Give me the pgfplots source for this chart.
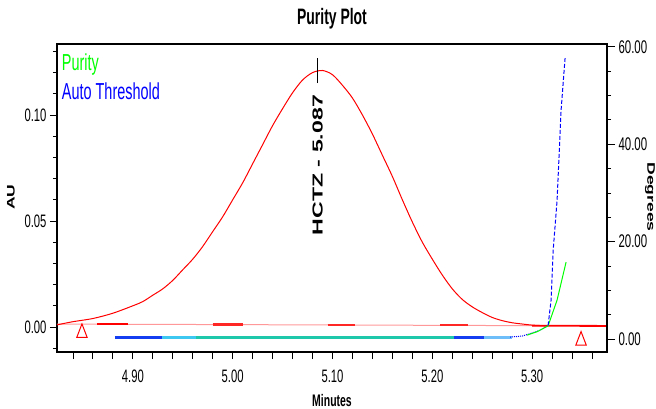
\documentclass[border=0pt]{standalone}
\usepackage{fontspec}
\setmainfont{Liberation Sans}
\usepackage{graphicx}
\usepackage{pgfplots}
\pgfplotsset{compat=1.18}
\newcommand{\st}[1]{\scalebox{1}[1.6]{#1}}
\newcommand{\sw}[1]{\scalebox{1.6}[1]{#1}}
\definecolor{dkblue}{RGB}{20,60,240}
\definecolor{cyanb}{RGB}{60,200,240}
\definecolor{tealb}{RGB}{30,200,170}
\definecolor{ltblue}{RGB}{110,190,250}
\begin{document}
\begin{tikzpicture}
\begin{axis}[
  scale only axis, width=550bp, height=308bp, at={(0,0)}, anchor=south west,
  xmin=4.824, xmax=5.375, ymin=-0.0118, ymax=0.1335,
  axis line style={line width=1.2bp},
  tick align=outside, tick style={black, line width=0.9bp},
  major tick length=7bp, minor tick length=4bp,
  xtick pos=bottom, ytick pos=left,
  xtick={4.84,4.86,4.88,4.90,4.92,4.94,4.96,4.98,5.00,5.02,5.04,5.06,5.08,5.10,5.12,5.14,5.16,5.18,5.20,5.22,5.24,5.26,5.28,5.30,5.32,5.34,5.36},
  xticklabels={,,,\st{4.90},,,,,\st{5.00},,,,,\st{5.10},,,,,\st{5.20},,,,,\st{5.30},,,},
  xticklabel style={yshift=-7bp},
  ytick={0,0.05,0.10}, yticklabels={\st{0.00},\st{0.05},\st{0.10}},
  minor ytick={-0.01,0.01,0.02,0.03,0.04,0.06,0.07,0.08,0.09,0.11,0.12,0.13},
  ticklabel style={font=\fontsize{11.3}{12}\selectfont},
  title={\st{Purity Plot}},
  title style={at={(axis description cs:0.5,1.062)}, anchor=center, font=\bfseries\fontsize{14}{15}\selectfont},
  xlabel={\st{Minutes}},
  xlabel style={at={(axis description cs:0.5,-0.156)}, anchor=center, font=\bfseries\fontsize{10.5}{12}\selectfont},
  ylabel={\sw{AU}},
  ylabel style={at={(axis description cs:-0.0836,0.503)}, anchor=center, rotate=0, font=\bfseries\fontsize{11}{12}\selectfont},
  clip=false,
]
% baseline
\addplot[red!40, line width=1bp] coordinates {(4.824,0.0014) (5.316,0.0006)};
\addplot[red, line width=2.4bp] coordinates {(4.864,0.0013) (4.895,0.0013)};
\addplot[red!85, line width=2.4bp] coordinates {(4.980,0.0011) (5.010,0.0011)};
\addplot[red!85, line width=2.4bp] coordinates {(5.095,0.0009) (5.123,0.0009)};
\addplot[red!85, line width=2.4bp] coordinates {(5.208,0.0008) (5.236,0.0008)};
\addplot[red, line width=1.8bp] coordinates {(5.300,0.0006) (5.375,0.0005)};
% chromatogram
\addplot[red, line width=1bp, smooth] coordinates {
(4.824,0.0010) (4.840,0.0025) (4.860,0.0040) (4.880,0.0065) (4.900,0.0100)
(4.910,0.0120) (4.920,0.0150) (4.930,0.0180) (4.940,0.0220) (4.950,0.0270)
(4.960,0.0320) (4.970,0.0380) (4.980,0.0450) (4.990,0.0520) (5.000,0.0600)
(5.010,0.0680) (5.020,0.0770) (5.030,0.0860) (5.040,0.0950) (5.050,0.1030)
(5.060,0.1105) (5.070,0.1165) (5.080,0.1200) (5.090,0.1210) (5.100,0.1190)
(5.110,0.1140) (5.120,0.1080) (5.130,0.1000) (5.140,0.0910) (5.150,0.0810)
(5.160,0.0710) (5.170,0.0600) (5.180,0.0495) (5.190,0.0400) (5.200,0.0320)
(5.210,0.0245) (5.220,0.0180) (5.230,0.0130) (5.240,0.0095) (5.250,0.0068)
(5.260,0.0045) (5.270,0.0030) (5.280,0.0020) (5.290,0.0014) (5.300,0.0009)
(5.316,0.0005)};
% peak marker
\addplot[black, line width=0.9bp] coordinates {(5.085,0.1151) (5.085,0.1269)};
\node[rotate=90, font=\bfseries\fontsize{14.5}{16}\selectfont] at (axis cs:5.085,0.0764) {\sw{HCTZ - 5.087}};
% integration markers
\addplot[only marks, mark=triangle, mark size=6bp, mark options={red, line width=1bp, yscale=1.5}] coordinates {(4.849,-0.0028) (5.349,-0.0064)};
\end{axis}
\begin{axis}[
  scale only axis, width=550bp, height=308bp, at={(0,0)}, anchor=south west,
  xmin=4.824, xmax=5.375, ymin=-2.67, ymax=60.6,
  hide x axis, axis y line*=right,
  axis line style={line width=1.2bp},
  tick align=outside, tick style={black, line width=0.9bp},
  major tick length=8bp, minor tick length=4bp,
  ytick={0,20,40,60}, yticklabels={\st{0.00},\st{20.00},\st{40.00},\st{60.00}},
  minor ytick={5,10,15,25,30,35,45,50,55},
  ticklabel style={font=\fontsize{11.5}{12}\selectfont},
  ylabel={\sw{Degrees}},
  ylabel style={at={(axis description cs:1.078,0.503)}, anchor=center, rotate=180, font=\bfseries\fontsize{11}{12}\selectfont},
  legend style={at={(axis description cs:0.005,0.975)}, anchor=north west, draw=none, fill=none,
    font=\fontsize{14.5}{16}\selectfont, row sep=7bp, inner sep=0pt},
  legend cell align=left,
  legend image code/.code={},
  clip=false,
]
\addplot[dkblue, line width=3bp, forget plot] coordinates {(4.882,0.35) (4.929,0.35)};
\addplot[cyanb, line width=3bp, forget plot] coordinates {(4.929,0.35) (4.963,0.35)};
\addplot[tealb, line width=3bp, forget plot] coordinates {(4.963,0.35) (5.222,0.35)};
\addplot[dkblue, line width=3bp, forget plot] coordinates {(5.222,0.35) (5.252,0.35)};
\addplot[ltblue, line width=3bp, forget plot] coordinates {(5.252,0.35) (5.280,0.35)};
\addplot[blue, line width=1bp, densely dotted, forget plot] coordinates {(5.278,0.4) (5.290,0.6) (5.298,1.1) (5.308,1.8) (5.316,2.8)};
\addplot[green, line width=1bp, forget plot] coordinates {(5.295,0.8) (5.305,1.5) (5.316,2.7)};
\addplot[green, line width=1bp] coordinates {(5.316,2.7) (5.325,8.0) (5.334,15.8)};
\addlegendentry{\textcolor{green}{\st{Purity}}}
\addplot[blue, line width=1bp, dash pattern=on 4bp off 2bp] coordinates {(5.316,2.8) (5.319,8) (5.321,18) (5.325,28.5) (5.329,47) (5.333,57.7)};
\addlegendentry{\textcolor{blue}{\st{Auto Threshold}}}
\end{axis}
\pgfresetboundingbox
\path[use as bounding box] (-57bp,-57bp) rectangle (599bp,352bp);
\end{tikzpicture}
\end{document}
